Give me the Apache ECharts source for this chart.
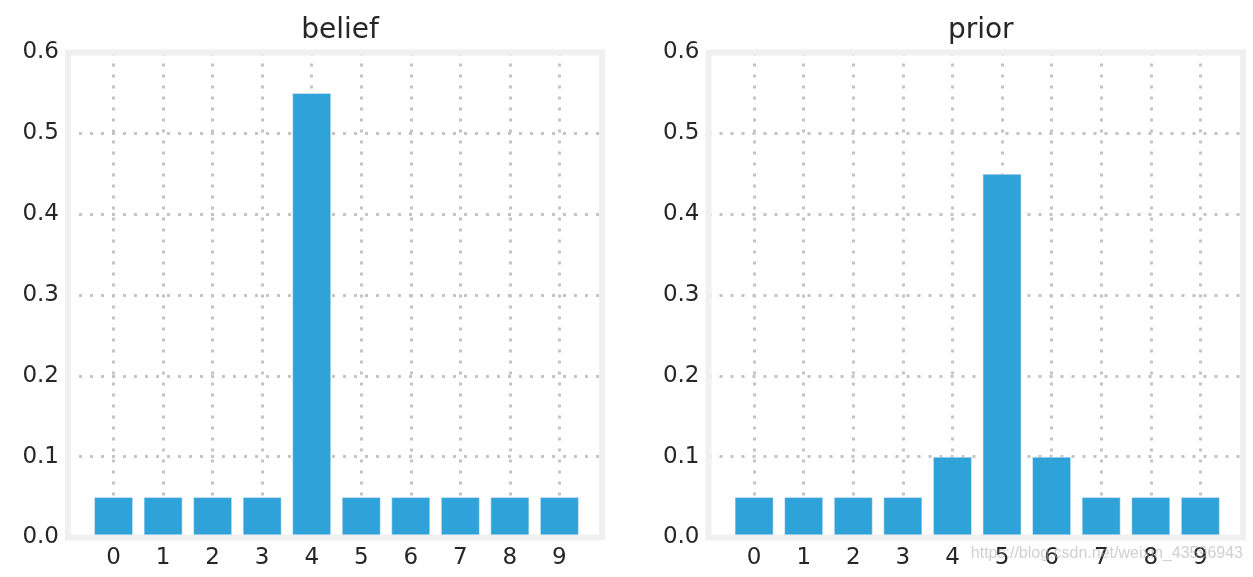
<!DOCTYPE html>
<html>
<head>
<meta charset="utf-8">
<script src="https://cdn.jsdelivr.net/npm/echarts@6/dist/echarts.min.js"></script>
<style>
html,body{margin:0;padding:0;background:#fff;}
#main{width:1253px;height:577px;}
</style>
</head>
<body>
<div id="main"></div>
<script>
const categories = [0, 1, 2, 3, 4, 5, 6, 7, 8, 9];
const beliefValues = [0.05, 0.05, 0.05, 0.05, 0.55, 0.05, 0.05, 0.05, 0.05, 0.05];
const priorValues = [0.05, 0.05, 0.05, 0.05, 0.10, 0.45, 0.10, 0.05, 0.05, 0.05];
const titles = ['belief', 'prior'];

const FONT = 'DejaVu Sans';
const TEXT = '#262626';
const BAR = '#30a2da';
const FRAME = '#f0f0f0';
const GRIDLINE = '#c4c4c4';

const grids = [
  {left: 68, right: 651, top: 52.5, bottom: 39.5},
  {left: 708.5, right: 10, top: 52.5, bottom: 39.5}
];

function xAxisFor(i) {
  return {
    type: 'value', gridIndex: i, min: -0.92, max: 9.86,
    axisLine: {show: false},
    axisTick: {show: false, customValues: categories},
    axisLabel: {customValues: categories, fontFamily: FONT, fontSize: 23, color: TEXT, margin: 9,
      formatter: v => String(v)},
    splitLine: {show: true, lineStyle: {color: GRIDLINE, width: 3, type: [3, 8]}}
  };
}
function yAxisFor(i) {
  return {
    type: 'value', gridIndex: i, min: 0, max: 0.6, interval: 0.1,
    axisLine: {show: false}, axisTick: {show: false},
    axisLabel: {fontFamily: FONT, fontSize: 23, color: TEXT, margin: 9,
      formatter: v => v.toFixed(1)},
    splitLine: {show: true, lineStyle: {color: GRIDLINE, width: 3, type: [3, 8]}}
  };
}

const chart = echarts.init(document.getElementById('main'), null, {renderer: 'canvas'});
chart.setOption({
  animation: false,
  backgroundColor: '#ffffff',
  title: titles.map((t, i) => ({
    text: t,
    left: (grids[i].left + (1253 - grids[i].right)) / 2,
    top: 12,
    textAlign: 'center',
    textStyle: {fontFamily: FONT, fontSize: 28, fontWeight: 'normal', color: TEXT}
  })),
  grid: grids.map(g => Object.assign({show: true, z: 10, backgroundColor: 'transparent',
    borderColor: FRAME, borderWidth: 6}, g)),
  xAxis: [xAxisFor(0), xAxisFor(1)],
  yAxis: [yAxisFor(0), yAxisFor(1)],
  series: [
    {type: 'bar', xAxisIndex: 0, yAxisIndex: 0, barWidth: 39,
      itemStyle: {color: BAR, borderColor: 'rgba(240,240,240,0.5)', borderWidth: 1},
      data: categories.map((c, k) => [c, beliefValues[k]])},
    {type: 'bar', xAxisIndex: 1, yAxisIndex: 1, barWidth: 39,
      itemStyle: {color: BAR, borderColor: 'rgba(240,240,240,0.5)', borderWidth: 1},
      data: categories.map((c, k) => [c, priorValues[k]])}
  ],
  graphic: [{
    type: 'text', right: 10, top: 546, z: 100,
    style: {text: 'https://blog.csdn.net/weixin_43596943', fontFamily: 'Liberation Sans',
      fontSize: 16, fill: 'rgba(170,170,170,0.55)'}
  }]
});
</script>
</body>
</html>
